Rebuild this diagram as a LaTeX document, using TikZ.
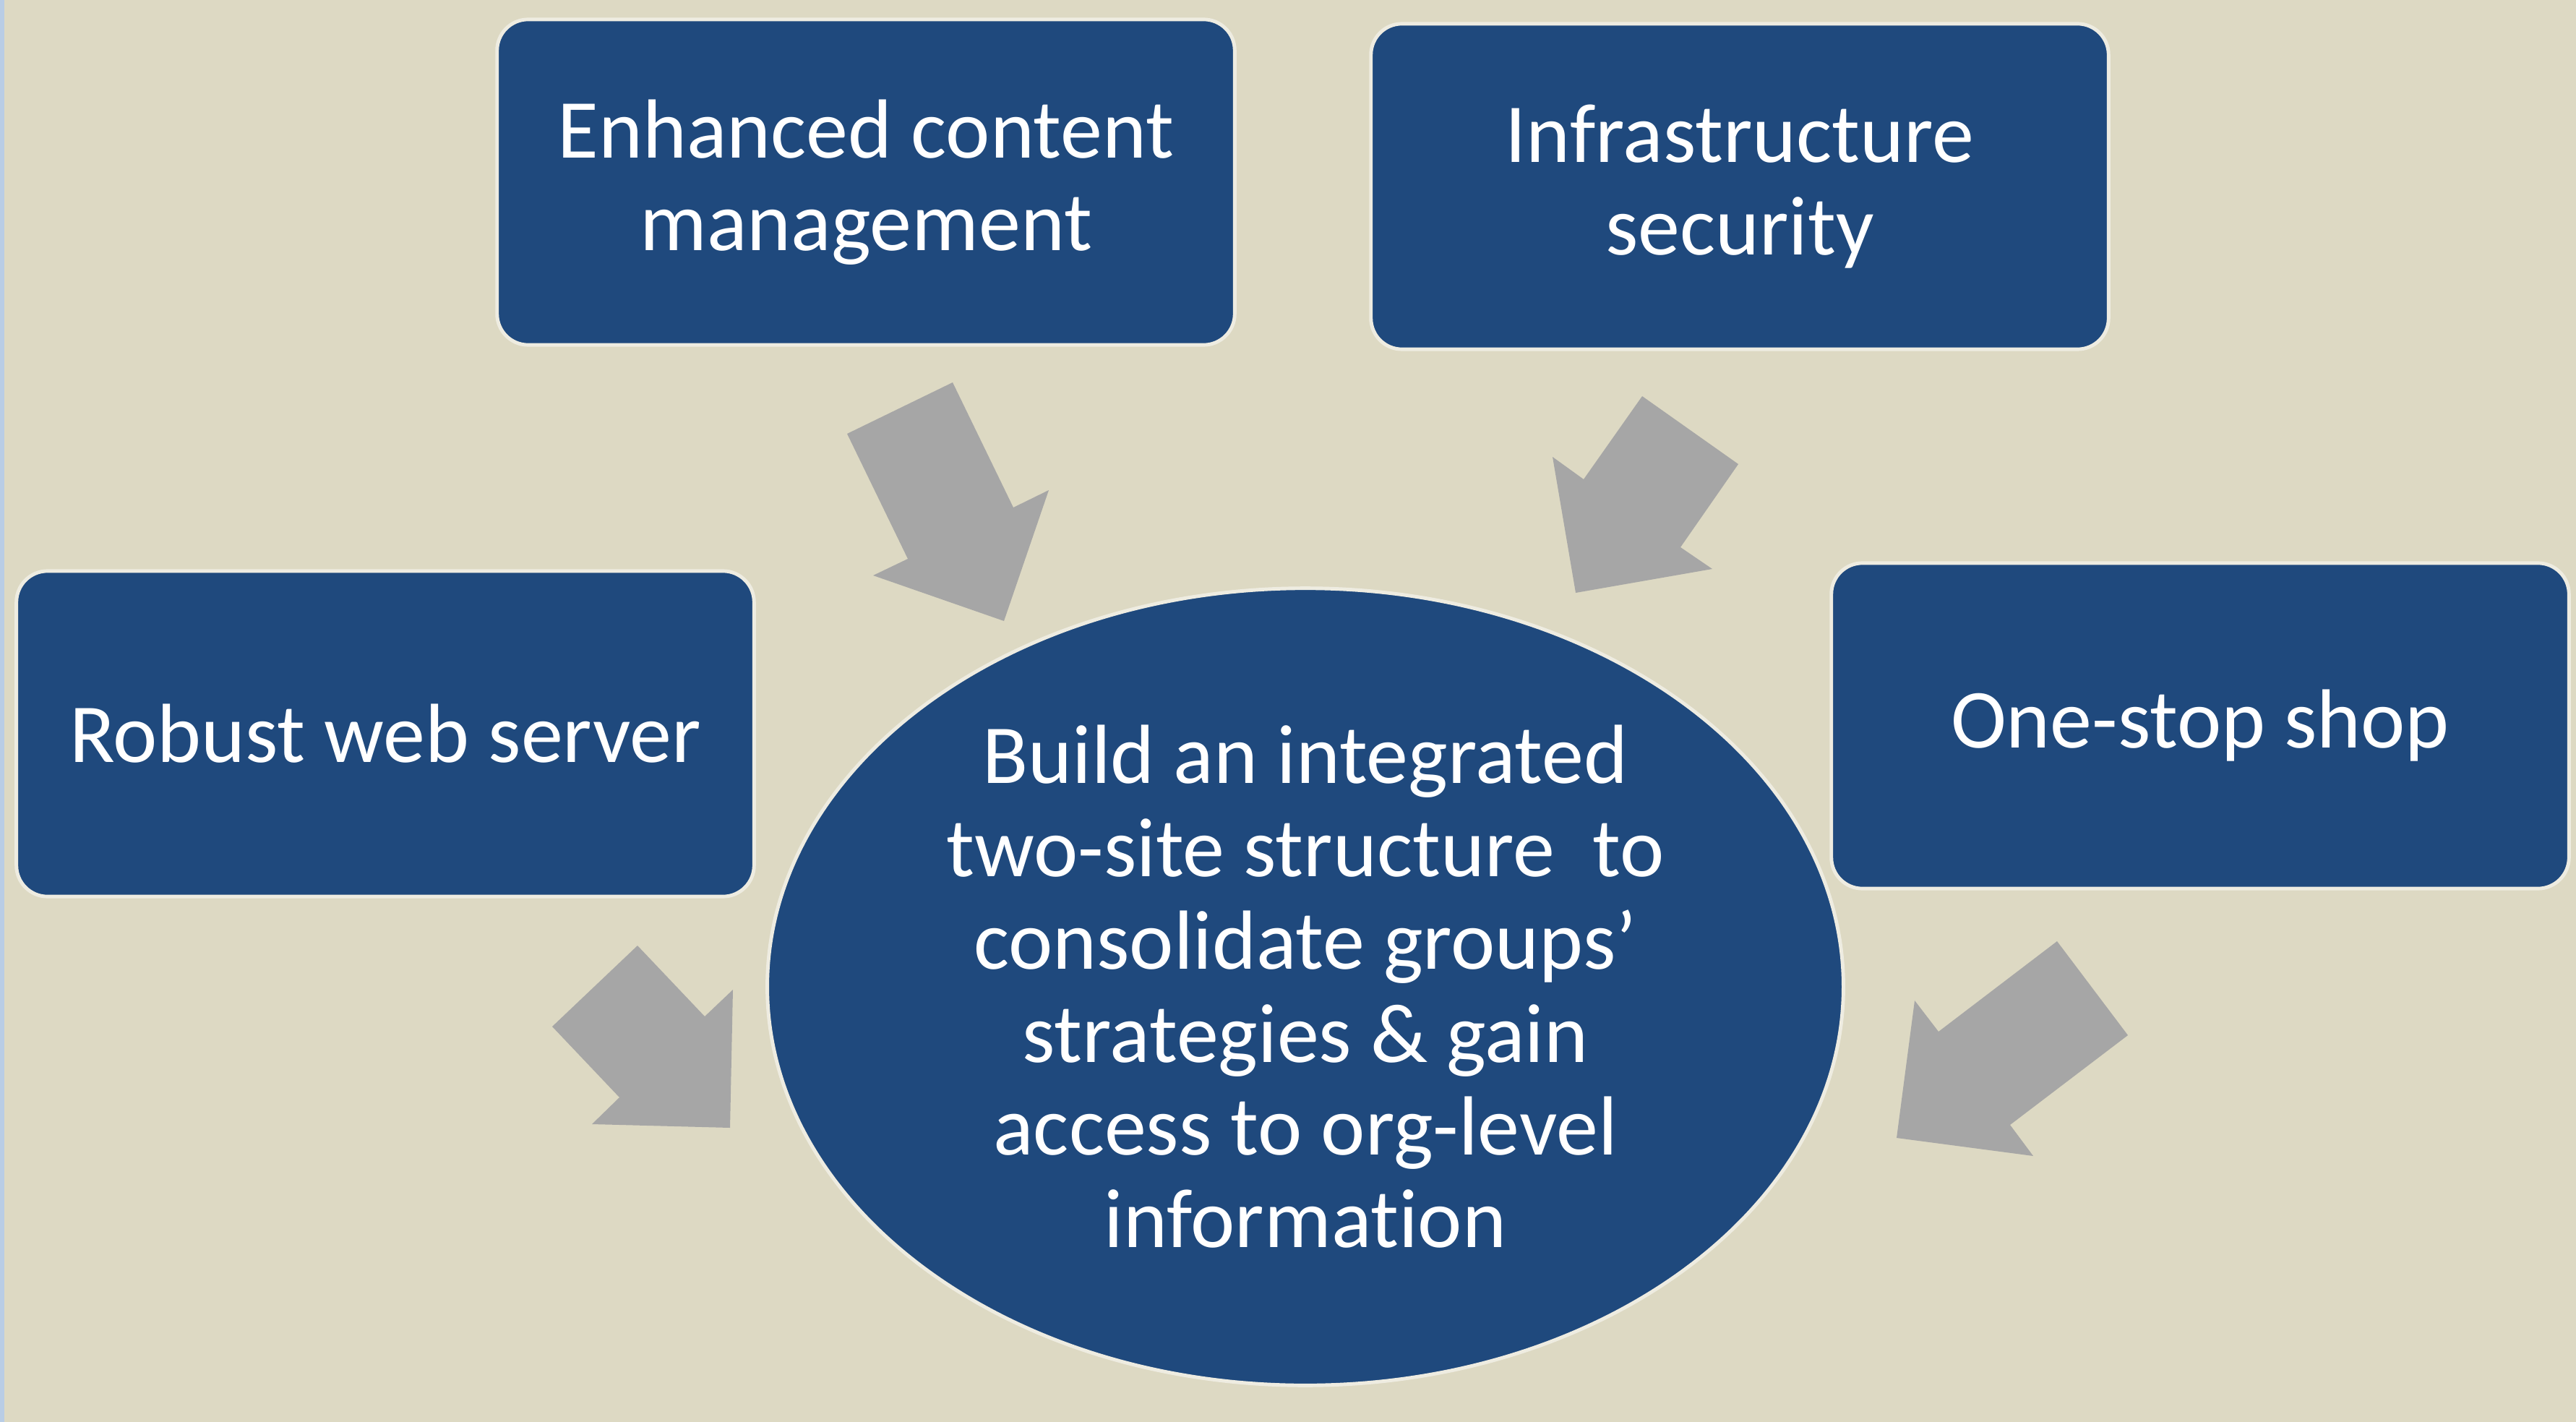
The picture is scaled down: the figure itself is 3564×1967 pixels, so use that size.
\documentclass[tikz,border=0pt]{standalone}
\usepackage{fontspec}
\setmainfont{Carlito}[Ligatures=NoCommon]
\usepackage{xcolor}
\usepackage{tikz}
\usetikzlibrary{shapes.geometric}
\definecolor{paper}{HTML}{DDD9C3}
\definecolor{edge}{HTML}{B9CDE5}
\definecolor{navy}{HTML}{1F497D}
\definecolor{rim}{HTML}{EEECE1}
\definecolor{arrowgrey}{HTML}{A6A6A6}
\tikzset{
  box/.style={draw=rim, fill=navy, line width=1.4pt, rounded corners=0.43cm,
    minimum width=10.2cm, minimum height=4.5cm, text=white, align=center,
    font=\fontsize{33}{36.5}\selectfont},
  hub/.style={ellipse, draw=rim, fill=navy, line width=1.4pt, inner sep=0pt,
    minimum width=14.88cm, minimum height=11.02cm, text=white, align=center,
    font=\fontsize{33}{36.5}\selectfont},
  blockarrow/.style={fill=arrowgrey, draw=none}
}

\begin{document}
\begin{tikzpicture}[x=0.01cm, y=-0.01cm]
\fill[paper] (0,0) rectangle (3564,1967);
\useasboundingbox (0,0) rectangle (3564,1967);
\fill[edge] (0,0) rectangle (6,1967);

% boxes
\node[box] (content) at (1198,252) {Enhanced content\\management};
\node[box] (infra) at (2407,258) {Infrastructure\\security};
\node[box] (web) at (533,1015) {Robust web server};
\node[box] (shop) at (3044,1004) {One-stop shop};

% centre
\node[hub] (goal) at (1806,1365) {Build an integrated\\two-site structure~ to\\consolidate groups’\\strategies \& gain\\access to org-level\\information};

% block arrows
\fill[blockarrow] (1318,529) -- (1402,702) -- (1451,678) -- (1389,859) -- (1208,796) -- (1256,773) -- (1172,600) -- cycle;
\fill[blockarrow] (2272,548) -- (2405,642) -- (2325,757) -- (2369,787) -- (2180,820) -- (2148,632) -- (2191,663) -- cycle;
\fill[blockarrow] (882,1308) -- (975,1406) -- (1014,1369) -- (1010,1560) -- (819,1555) -- (857,1518) -- (764,1420) -- cycle;
\fill[blockarrow] (2846,1302) -- (2944,1432) -- (2781,1556) -- (2813,1599) -- (2624,1574) -- (2649,1384) -- (2682,1427) -- cycle;
\end{tikzpicture}
\end{document}
